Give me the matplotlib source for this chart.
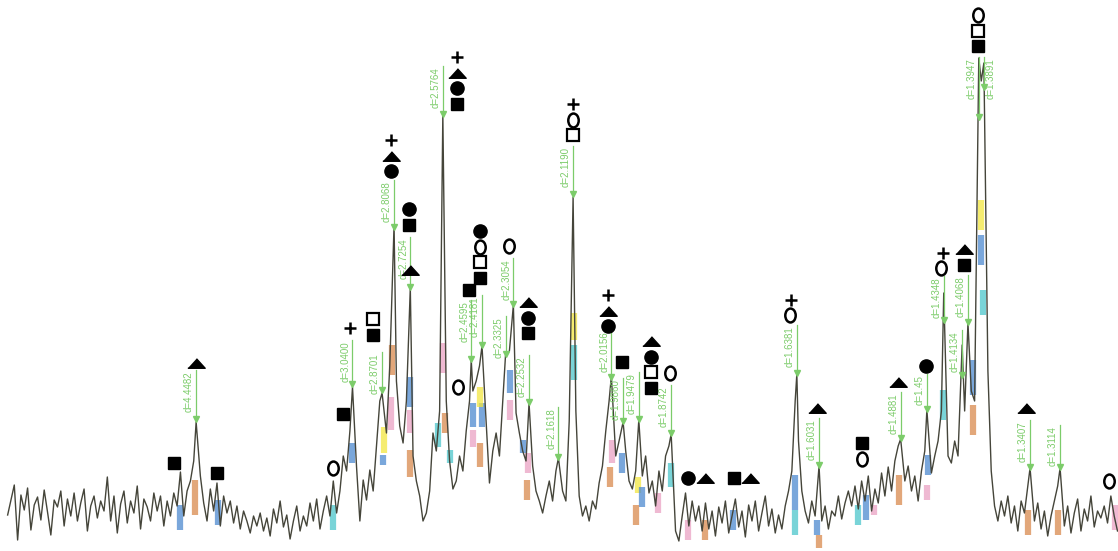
import numpy as np
import matplotlib.pyplot as plt
from matplotlib.path import Path
from matplotlib.transforms import Affine2D

wavelength = 1.5406  # Cu K-alpha, angstrom

scan_start = 8.6
scan_step = 0.2
scan_counts = [
    36, 51, 66, 11, 56, 41, 63, 21, 46, 54, 31, 61, 39, 16, 51,
    44, 60, 25, 52, 35, 58, 30, 48, 62, 20, 45, 55, 33, 50, 40,
    74, 30, 55, 18, 47, 60, 28, 50, 38, 65, 22, 52, 44, 30, 58,
    40, 55, 25, 50, 35, 58, 45, 79, 35, 60, 70, 90, 100, 75, 48,
    30, 62, 40, 68, 25, 55, 38, 50, 28, 45, 22, 40, 30, 18, 35,
    25, 38, 20, 33, 15, 42, 28, 50, 24, 36, 12, 30, 45, 20, 35,
    25, 48, 30, 52, 22, 40, 55, 35, 70, 38, 60, 95, 80, 120, 140,
    84, 30, 71, 51, 81, 60, 105, 150, 135, 118, 185, 210, 170, 125, 108,
    150, 230, 95, 70, 55, 30, 38, 60, 118, 100, 140, 200, 150, 90, 62,
    70, 95, 80, 120, 150, 160, 170, 185, 175, 130, 68, 100, 118, 95, 150,
    180, 200, 215, 138, 118, 100, 90, 110, 85, 60, 50, 38, 55, 70, 50,
    80, 85, 60, 50, 130, 320, 140, 55, 35, 45, 30, 50, 42, 68, 85,
    120, 150, 140, 95, 110, 120, 100, 70, 62, 80, 120, 75, 95, 58, 70,
    45, 80, 60, 95, 105, 100, 20, 10, 35, 58, 25, 50, 30, 45, 20,
    48, 22, 40, 15, 44, 28, 50, 18, 35, 52, 24, 40, 14, 46, 30,
    50, 20, 38, 55, 25, 42, 18, 36, 22, 45, 60, 80, 150, 110, 60,
    40, 28, 50, 35, 60, 30, 45, 22, 40, 35, 55, 32, 48, 60, 45,
    65, 42, 70, 50, 75, 40, 62, 48, 78, 55, 84, 60, 90, 105, 95,
    70, 85, 60, 75, 50, 80, 100, 125, 78, 95, 110, 140, 200, 95, 88,
    110, 95, 170, 140, 200, 160, 150, 300, 470, 450, 180, 80, 45, 30, 50,
    35, 55, 28, 45, 20, 50, 38, 65, 60, 30, 48, 22, 40, 15, 35,
    50, 65, 40, 25, 45, 18, 38, 52, 20, 42, 30, 55, 24, 40, 33,
    45, 28, 55, 35, 20,
]

# indexed reflections
d_values = [4.4482, 3.0400, 2.8701, 2.8068, 2.7254, 2.5764, 2.4595, 2.4181,
            2.3325, 2.3054, 2.2532, 2.1618, 2.1190, 2.0156, 1.9860, 1.9479,
            1.8742, 1.6381, 1.6031, 1.4881, 1.4551, 1.4348, 1.4134, 1.4068,
            1.3947, 1.3891, 1.3407, 1.3114]
d_labels = ['d=4.4482', 'd=3.0400', 'd=2.8701', 'd=2.8068', 'd=2.7254',
            'd=2.5764', 'd=2.4595', 'd=2.4181', 'd=2.3325', 'd=2.3054',
            'd=2.2532', 'd=2.1618', 'd=2.1190', 'd=2.0156', 'd=1.9860',
            'd=1.9479', 'd=1.8742', 'd=1.6381', 'd=1.6031', 'd=1.4881',
            'd=1.45', 'd=1.4348', 'd=1.4134', 'd=1.4068', 'd=1.3947',
            'd=1.3891', 'd=1.3407', 'd=1.3114']
label_right = [False] * 25 + [True, False, False]
peak_counts = [129, 164, 158, 326, 263, 436, 191, 205, 196, 246, 148, 93, 354,
               175, 129, 131, 117, 177, 85, 112, 141, 258, 206, 228, 493, 488,
               83, 83]
arrow_tip = [129, 164, 158, 321, 261, 434, 189, 203, 194, 244, 146, 91, 354,
             171, 127, 129, 115, 175, 83, 110, 139, 228, 173, 226, 431, 461,
             81, 81]
arrow_top = [181, 211, 199, 371, 314, 485, 251, 256, 235, 293, 196, 144, 405,
             221, 173, 179, 166, 226, 133, 159, 177, 275, 221, 276, 494, 494,
             131, 126]

# phase symbols (top to bottom): S=filled square, s=open square,
# C=filled circle, o=open circle, T=triangle, +=cross
sym_tt = [18.61, 21.20, 19.94, 28.18, 28.78, 29.21, 30.59, 31.67, 32.76, 32.82,
          35.64, 35.71, 36.37, 37.03, 38.77, 39.92, 42.63, 44.73, 45.58, 47.32,
          48.46, 49.55, 50.57, 52.32, 53.28, 55.75, 55.69, 57.31, 60.02, 62.19,
          63.87, 64.90, 64.77, 66.16, 67.00, 69.89, 74.89]
sym_top = [88, 78, 188, 83, 137, 223, 232, 411, 342, 281,
           494, 164, 261, 320, 305, 249, 447, 256, 189, 210,
           178, 73, 73, 73, 73, 251, 236, 143, 108, 169,
           185, 298, 283, 302, 536, 143, 70]
sym_codes = ['S', 'S', 'T', 'o', 'S', '+', 'sS', '+TC', 'CS', 'T',
             '+TCS', 'o', 'S', 'CosS', 'o', 'TCS', '+os', '+TC', 'S', 'TCsS',
             'o', 'C', 'T', 'S', 'T', '+', 'o', 'T', 'So', 'T',
             'C', '+', 'o', 'TS', 'osS', 'T', 'o']

# coloured pencil marks on the trace
band_tt = [19.88, 18.97, 21.26, 28.18, 29.33, 31.25, 31.19, 31.73, 31.67, 32.82,
           32.82, 32.82, 34.50, 35.22, 34.80, 34.92, 36.61, 37.15, 37.03, 36.61,
           37.03, 38.84, 38.84, 39.62, 39.92, 39.86, 42.69, 42.69, 44.97, 44.85,
           45.58, 46.54, 46.78, 46.42, 47.74, 48.53, 49.55, 50.57, 52.26, 55.99,
           55.99, 57.31, 57.43, 59.78, 60.26, 60.74, 62.25, 64.00, 63.93, 64.90,
           66.70, 66.70, 67.18, 67.18, 67.30, 70.01, 71.82, 75.25]
band_lo = [36, 21, 26, 21, 88, 98, 86, 176, 121, 144,
           118, 74, 104, 88, 178, 118, 124, 124, 144, 104,
           84, 158, 131, 98, 78, 51, 211, 171, 88, 64,
           78, 58, 44, 26, 38, 64, 11, 11, 21, 41,
           16, 16, 3, 26, 31, 36, 46, 76, 51, 131,
           156, 116, 321, 286, 236, 16, 16, 21]
band_hi = [71, 46, 51, 46, 108, 124, 96, 206, 154, 174,
           141, 101, 128, 101, 208, 138, 148, 148, 164, 121,
           108, 181, 151, 111, 98, 71, 238, 206, 111, 84,
           98, 74, 64, 46, 58, 88, 31, 31, 41, 76,
           41, 31, 16, 46, 56, 46, 76, 96, 66, 161,
           191, 146, 351, 316, 261, 41, 41, 46]
band_col = ['o', 'b', 'b', 'c', 'b', 'y', 'b', 'o', 'p', 'b',
            'p', 'o', 'c', 'c', 'p', 'o', 'b', 'b', 'y', 'p',
            'o', 'b', 'p', 'b', 'p', 'o', 'y', 'c', 'p', 'o',
            'b', 'y', 'b', 'o', 'p', 'c', 'p', 'o', 'b', 'b',
            'c', 'b', 'o', 'c', 'b', 'p', 'o', 'b', 'p', 'c',
            'b', 'o', 'y', 'b', 'c', 'o', 'o', 'p']

pencil = {'o': '#d98a4e', 'b': '#4d8ad0', 'p': '#eaa2c4', 'y': '#f2e640', 'c': '#4cc6cc'}
green = '#7ccc6a'
trace_col = '#45453a'


def two_theta(d):
    return 2 * np.degrees(np.arcsin(wavelength / (2 * np.asarray(d))))


peak_tt = two_theta(d_values)
grid_tt = scan_start + scan_step * np.arange(len(scan_counts))
keep = np.array([np.min(np.abs(peak_tt - t)) > 0.08 for t in grid_tt])
all_tt = np.concatenate([grid_tt[keep], peak_tt])
all_cnt = np.concatenate([np.asarray(scan_counts)[keep], peak_counts])
order = np.argsort(all_tt)

fig = plt.figure(figsize=(11.18, 5.51), dpi=100)
ax = fig.add_axes([0, 0, 1, 1])
ax.set_xlim(8.14, 75.43)
ax.set_ylim(0, 551)
ax.axis('off')

for t, lo, hi, c in zip(band_tt, band_lo, band_hi, band_col):
    ax.plot([t, t], [lo, hi], color=pencil[c], lw=4.5, alpha=0.75,
            solid_capstyle='butt', zorder=1)

ax.plot(all_tt[order], all_cnt[order], color=trace_col, lw=1.0, zorder=2)

# d-spacing labels with arrows
for t, lab, tip, top, right in zip(peak_tt, d_labels, arrow_tip, arrow_top, label_right):
    ax.plot([t, t], [top, tip + 3], color=green, lw=0.9, zorder=3)
    ax.plot(t, tip + 3, marker='v', ms=5, color=green, mec=green, zorder=3)
    ax.annotate(lab, xy=(t, top), xytext=(1.5 if right else -1.5, -1),
                textcoords='offset points', rotation=90,
                ha='left' if right else 'right', va='top', fontsize=7, color=green,
                family=['Liberation Sans Narrow', 'Liberation Sans', 'DejaVu Sans'],
                zorder=3)

tri = [(-1, -0.55), (1, -0.55), (0, 0.55)]
ellipse = Path.unit_circle().transformed(Affine2D().scale(0.75, 1.0))
sym_style = {
    'S': dict(marker='s', ms=9, mfc='k', mec='k'),
    's': dict(marker='s', ms=9, mfc='white', mec='k', mew=1.6),
    'C': dict(marker='o', ms=9.5, mfc='k', mec='k'),
    'o': dict(marker=ellipse, ms=10, mfc='none', mec='k', mew=1.8),
    'T': dict(marker=tri, ms=12.5, mfc='k', mec='k'),
    '+': dict(marker='+', ms=9, mec='k', mew=1.8),
}
for t, top, codes in zip(sym_tt, sym_top, sym_codes):
    for k, c in enumerate(codes):
        ax.plot(t, top - 15.5 * k, linestyle='none', zorder=4, **sym_style[c])

fig.savefig('out.png', dpi=100)
